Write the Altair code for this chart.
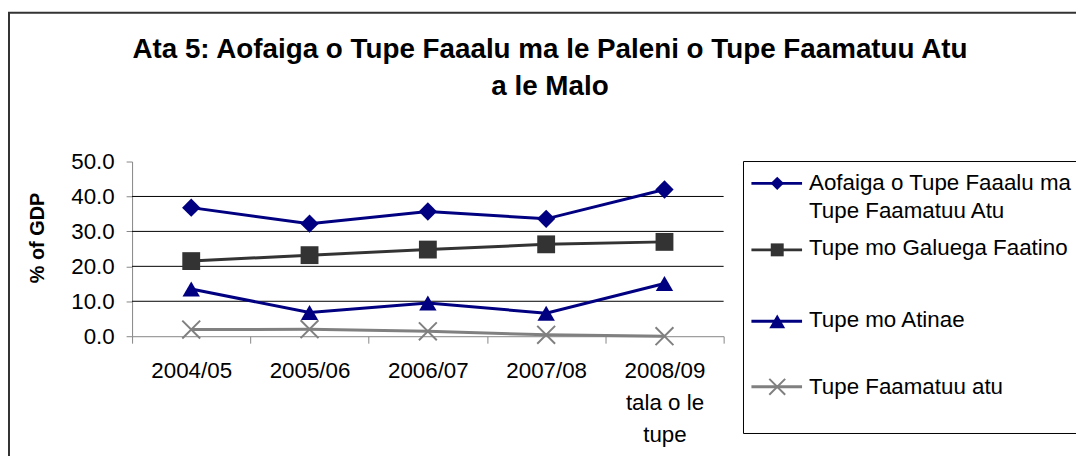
import altair as alt
import pandas as pd

# ---------------- data ----------------
categories = ["2004/05", "2005/06", "2006/07", "2007/08", "2008/09\ntala o le\ntupe"]
series_names = [
    "Aofaiga o Tupe Faaalu ma Tupe Faamatuu Atu",
    "Tupe mo Galuega Faatino",
    "Tupe mo Atinae",
    "Tupe Faamatuu atu",
]
legend_labels = [
    "Aofaiga o Tupe Faaalu ma\nTupe Faamatuu Atu",
    "Tupe mo Galuega Faatino",
    "Tupe mo Atinae",
    "Tupe Faamatuu atu",
]
total_vals = [36.8, 32.2, 35.7, 33.6, 42.0]
galuega_vals = [21.5, 23.2, 24.8, 26.3, 27.0]
atinae_vals = [13.5, 6.8, 9.5, 6.6, 15.1]
faamatuu_vals = [1.9, 2.0, 1.4, 0.4, 0.0]
y_ticks = [0, 10, 20, 30, 40, 50]
grid_values = [10, 20, 30, 40]
title_lines = ["Ata 5: Aofaiga o Tupe Faaalu ma le Paleni o Tupe Faamatuu Atu", "a le Malo"]
y_title = "% of GDP"

# ---------------- style / layout ----------------
FONT = "Liberation Sans"
NAVY = "#000080"
DARK = "#333333"
GRAY = "#808080"
AXIS_GRAY = "#868686"
colors = [NAVY, DARK, NAVY, GRAY]
XSHAPE = "M-1,-1L1,1M-1,1L1,-1"
shapes = ["diamond", "square", "triangle-up", XSHAPE]
point_sizes = [340, 290, 361, 324]
legend_sizes = [180, 170, 256, 256]

W, H = 596, 176
PAD_L, PAD_T = 125, 153
TOTAL_W, TOTAL_H = 1076, 448
LEGEND_ROW_Y = [29, 94, 167, 234]      # text baselines (plot coords)
LEGEND_SYM_Y = [22, 89, 161, 227]      # symbol centres (plot coords)

values_by_series = [total_vals, galuega_vals, atinae_vals, faamatuu_vals]
rows = []
for name, vals in zip(series_names, values_by_series):
    for c, v in zip(categories, vals):
        rows.append({"cat": c, "val": v, "series": name})
df = pd.DataFrame(rows)

grid_df = pd.DataFrame({"val": grid_values})

leg_df = pd.DataFrame({
    "series": series_names,
    "label": legend_labels,
    "ty": LEGEND_ROW_Y,
    "sy": LEGEND_SYM_Y,
    "msize": legend_sizes,
})

color_scale = alt.Scale(domain=series_names, range=colors)
shape_scale = alt.Scale(domain=series_names, range=shapes)
size_scale = alt.Scale(domain=series_names, range=point_sizes)

x_enc = alt.X(
    "cat:N",
    sort=categories,
    bandPosition=0.5,
    scale=alt.Scale(type="band", domain=categories, paddingInner=0, paddingOuter=0),
    axis=alt.Axis(
        title=None, labelAngle=0, grid=False,
        domainColor=AXIS_GRAY, tickColor=AXIS_GRAY, tickSize=7, tickBand="extent",
        labelFont=FONT, labelFontSize=22.5, labelColor="#000000",
        labelPadding=17, labelLineHeight=32, labelBaseline="top", labelLimit=400,
        labelExpr="split(datum.label, '\\n')",
    ),
)
y_enc = alt.Y(
    "val:Q",
    scale=alt.Scale(domain=[0, 50], nice=False, zero=True),
    axis=alt.Axis(
        title=None, values=y_ticks, format=".1f", grid=False,
        domainColor=AXIS_GRAY, tickColor=AXIS_GRAY, tickSize=6,
        labelFont=FONT, labelFontSize=22.5, labelColor="#000000", labelPadding=12,
    ),
)

base = alt.Chart(df)

grid = alt.Chart(grid_df).mark_rule(color="#000000", strokeWidth=1).encode(
    y=y_enc, x=alt.value(0), x2=alt.value(W)
)

lines = base.mark_line(strokeWidth=3).encode(
    x=x_enc, y=y_enc,
    color=alt.Color("series:N", scale=color_scale, legend=None),
    detail="series:N",
)

pts_filled = base.transform_filter(
    alt.FieldOneOfPredicate(field="series", oneOf=series_names[:3])
).mark_point(filled=True, opacity=1).encode(
    x=x_enc, y=y_enc,
    color=alt.Color("series:N", scale=color_scale, legend=None),
    shape=alt.Shape("series:N", scale=shape_scale, legend=None),
    size=alt.Size("series:N", scale=size_scale, legend=None),
)

pts_x = base.transform_filter(
    alt.FieldEqualPredicate(field="series", equal=series_names[3])
).mark_point(filled=False, opacity=1, strokeWidth=2, shape=XSHAPE, size=324, color=GRAY).encode(
    x=x_enc, y=y_enc,
)

# title
title_df = pd.DataFrame({"t": title_lines, "ty": [-104, -67]})
title = alt.Chart(title_df).mark_text(
    font=FONT, fontSize=28, fontWeight="bold", align="center", baseline="alphabetic", color="#000000"
).encode(x=alt.value(421), y=alt.Y("ty:Q", scale=None), text="t:N")

ytitle = alt.Chart(pd.DataFrame({"t": [y_title]})).mark_text(
    font=FONT, fontSize=20, fontWeight="bold", angle=270, align="center", baseline="middle", color="#000000"
).encode(x=alt.value(-95), y=alt.value(77), text="t:N")

# outer frame
frame = alt.Chart(pd.DataFrame({"a": [0]})).mark_rect(
    fill="transparent", stroke="#333333", strokeWidth=2
).encode(x=alt.value(-124), x2=alt.value(1100), y=alt.value(-150), y2=alt.value(400))

# legend
legend_box = alt.Chart(pd.DataFrame({"a": [0]})).mark_rect(
    fill="white", stroke="#000000", strokeWidth=1
).encode(x=alt.value(616), x2=alt.value(1100), y=alt.value(0), y2=alt.value(274))

leg_base = alt.Chart(leg_df)
leg_lines = leg_base.mark_rule(strokeWidth=3).encode(
    x=alt.value(624), x2=alt.value(675), y=alt.Y("sy:Q", scale=None),
    color=alt.Color("series:N", scale=color_scale, legend=None),
)
leg_pts = leg_base.transform_filter(
    alt.FieldOneOfPredicate(field="series", oneOf=series_names[:3])
).mark_point(filled=True, opacity=1).encode(
    x=alt.value(650), y=alt.Y("sy:Q", scale=None),
    color=alt.Color("series:N", scale=color_scale, legend=None),
    shape=alt.Shape("series:N", scale=shape_scale, legend=None),
    size=alt.Size("msize:Q", scale=None),
)
leg_x = leg_base.transform_filter(
    alt.FieldEqualPredicate(field="series", equal=series_names[3])
).mark_point(filled=False, opacity=1, strokeWidth=2, shape=XSHAPE, color=GRAY).encode(
    x=alt.value(650), y=alt.Y("sy:Q", scale=None), size=alt.Size("msize:Q", scale=None),
)
leg_text = leg_base.mark_text(
    font=FONT, fontSize=22.5, align="left", baseline="alphabetic", lineBreak="\n", lineHeight=28,
    color="#000000",
).encode(x=alt.value(682), y=alt.Y("ty:Q", scale=None), text="label:N")

chart = alt.layer(
    frame, grid, lines, pts_filled, pts_x, title, ytitle,
    legend_box, leg_lines, leg_pts, leg_x, leg_text,
).properties(
    width=W, height=H,
    padding={"left": PAD_L, "top": PAD_T, "right": TOTAL_W - PAD_L - W, "bottom": TOTAL_H - PAD_T - H},
    autosize=alt.AutoSizeParams(type="none"),
    background="white",
).configure_view(strokeWidth=0)

chart.save("out.html", embed_options={"renderer": "svg", "actions": False})
